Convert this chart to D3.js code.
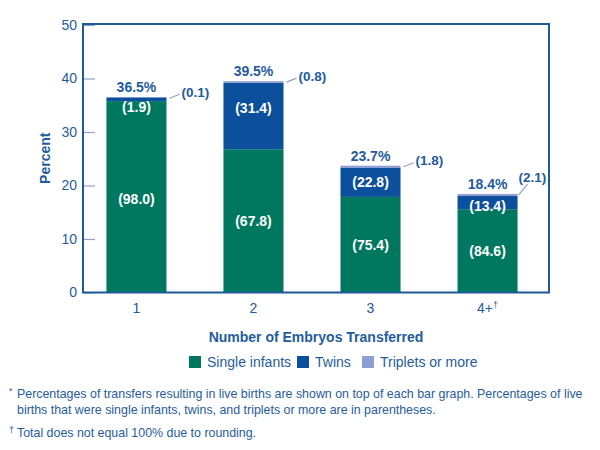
<!DOCTYPE html>
<html><head><meta charset="utf-8">
<script src="https://cdn.jsdelivr.net/npm/d3@7"></script>
<style>body{margin:0;background:#fff}svg{display:block}text{font-family:"Liberation Sans",Arial,sans-serif}</style>
</head><body>
<script>
const categories = ["1","2","3","4+"];
const tickLabels = ["1","2","3","4+†"];
const totals = [36.5, 39.5, 23.7, 18.4];
const singlePct = [98.0, 67.8, 75.4, 84.6];
const twinsPct = [1.9, 31.4, 22.8, 13.4];
const tripletsPct = [0.1, 0.8, 1.8, 2.1];
const yTicks = [0,10,20,30,40,50];
const seriesNames = ["Single infants","Twins","Triplets or more"];
const colors = ["#00775f","#0c4f9d","#8d9fd4"];
const blue = "#1f5c9e";

const W=600,H=450;
const svg=d3.select("body").append("svg").attr("width",W).attr("height",H);
const L=83,R=549,T=24,B=292.5;
const y=d3.scaleLinear().domain([0,50]).range([B,25]);
const x=d3.scaleBand().domain(categories).range([78,546]).paddingInner(0.487).paddingOuter(0.243);

const rows=categories.map((c,i)=>({cat:c,total:totals[i],
  s:totals[i]*singlePct[i]/100, t:totals[i]*twinsPct[i]/100, p:totals[i]*tripletsPct[i]/100,
  sp:singlePct[i], tp:twinsPct[i], pp:tripletsPct[i]}));
const stack=d3.stack().keys(["s","t","p"])(rows);

const ya=svg.append("g").attr("transform",`translate(${L},0)`)
  .call(d3.axisLeft(y).tickValues(yTicks).tickSizeInner(-12).tickSizeOuter(0).tickPadding(6));
ya.select(".domain").remove();
ya.selectAll(".tick line").attr("stroke","#8fa3bf").attr("stroke-width",1.2);
ya.selectAll(".tick text").attr("fill",blue).attr("font-size",14).attr("font-family","Liberation Sans, Arial");

stack.forEach((layer,k)=>{
  svg.append("g").selectAll("rect").data(layer).join("rect")
    .attr("x",d=>x(d.data.cat)).attr("width",x.bandwidth())
    .attr("y",d=>y(d[1])).attr("height",d=>y(d[0])-y(d[1]))
    .attr("fill",colors[k]);
});

svg.append("rect").attr("x",L).attr("y",T).attr("width",R-L).attr("height",B-T)
  .attr("fill","none").attr("stroke","#1d5a98").attr("stroke-width",2);

const xa=svg.append("g").attr("transform",`translate(0,${B})`)
  .call(d3.axisBottom(x).tickSize(0).tickPadding(11));
xa.select(".domain").remove();
xa.selectAll(".tick text").attr("fill",blue).attr("font-size",14).attr("font-family","Liberation Sans, Arial")
  .each(function(d,i){
    const t=d3.select(this).text(null); const lab=tickLabels[i];
    if(lab.endsWith("†")){t.append("tspan").text(lab.slice(0,-1));
      t.append("tspan").text("†").attr("font-size",9).attr("dy",-5);}
    else t.text(lab);
  });

const lbl=svg.append("g").attr("font-weight","bold");
lbl.selectAll(".tot").data(rows).join("text")
  .attr("x",d=>x(d.cat)+x.bandwidth()/2).attr("y",d=>y(d.total)-5)
  .attr("text-anchor","middle").attr("fill",blue).attr("font-size",14).text(d=>d.total.toFixed(1)+"%");
lbl.selectAll(".sg").data(rows).join("text")
  .attr("x",d=>x(d.cat)+x.bandwidth()/2)
  .attr("y",d=>Math.max((y(0)+y(d.s))/2, y(17.5)))
  .attr("dy","0.35em").attr("text-anchor","middle").attr("fill","#fff").attr("font-size",14)
  .text(d=>"("+d.sp.toFixed(1)+")");
lbl.selectAll(".tw").data(rows).join("text")
  .attr("x",d=>x(d.cat)+x.bandwidth()/2)
  .attr("y",d=>{const top=y(d.s+d.t), mid=(y(d.s)+top)/2; return Math.min(Math.max(mid,top+10),top+25);})
  .attr("dy","0.35em").attr("text-anchor","middle").attr("fill","#fff").attr("font-size",14)
  .text(d=>"("+d.tp.toFixed(1)+")");

rows.forEach((d,i)=>{
  const xr=x(d.cat)+x.bandwidth(), ty=y(d.total);
  const last = i===rows.length-1;
  const lx2 = last ? xr+10 : xr+13, ly2 = last ? ty-10 : ty-3;
  svg.append("line").attr("x1",last?xr+1:xr+3).attr("y1",ty+1).attr("x2",lx2).attr("y2",ly2)
    .attr("stroke","#8fa3bf").attr("stroke-width",1.2);
  svg.append("text").attr("x",last?xr+1:xr+15).attr("y",last?ty-17:ly2-2).attr("dy","0.35em")
    .attr("fill",blue).attr("font-size",13.5).attr("font-weight","bold").text("("+d.pp.toFixed(1)+")");
});

svg.append("text").attr("x",(L+R)/2).attr("y",342).attr("text-anchor","middle")
  .attr("fill",blue).attr("font-size",14).attr("font-weight","bold").text("Number of Embryos Transferred");
svg.append("text").attr("transform",`translate(50,${(T+B)/2}) rotate(-90)`).attr("text-anchor","middle")
  .attr("fill",blue).attr("font-size",14).attr("font-weight","bold").text("Percent");

const lx=[189,297,362];
const lg=svg.append("g");
seriesNames.forEach((n,i)=>{
  lg.append("rect").attr("x",lx[i]).attr("y",356).attr("width",12).attr("height",12).attr("fill",colors[i]);
  lg.append("text").attr("x",lx[i]+18).attr("y",362).attr("dy","0.35em").attr("fill",blue)
    .attr("font-size",14).text(n);
});

const fn=svg.append("g").attr("fill",blue).attr("font-size",12.4);
const f1=fn.append("text").attr("x",9).attr("y",398);
f1.append("tspan").text("*").attr("font-size",9).attr("dy",-4);
f1.append("tspan").attr("x",17).attr("dy",4).text("Percentages of transfers resulting in live births are shown on top of each bar graph. Percentages of live");
fn.append("text").attr("x",17).attr("y",414).text("births that were single infants, twins, and triplets or more are in parentheses.");
const f3=fn.append("text").attr("x",9).attr("y",437);
f3.append("tspan").text("†").attr("font-size",9).attr("dy",-4);
f3.append("tspan").attr("x",17).attr("dy",4).text("Total does not equal 100% due to rounding.");
</script>
</body></html>
